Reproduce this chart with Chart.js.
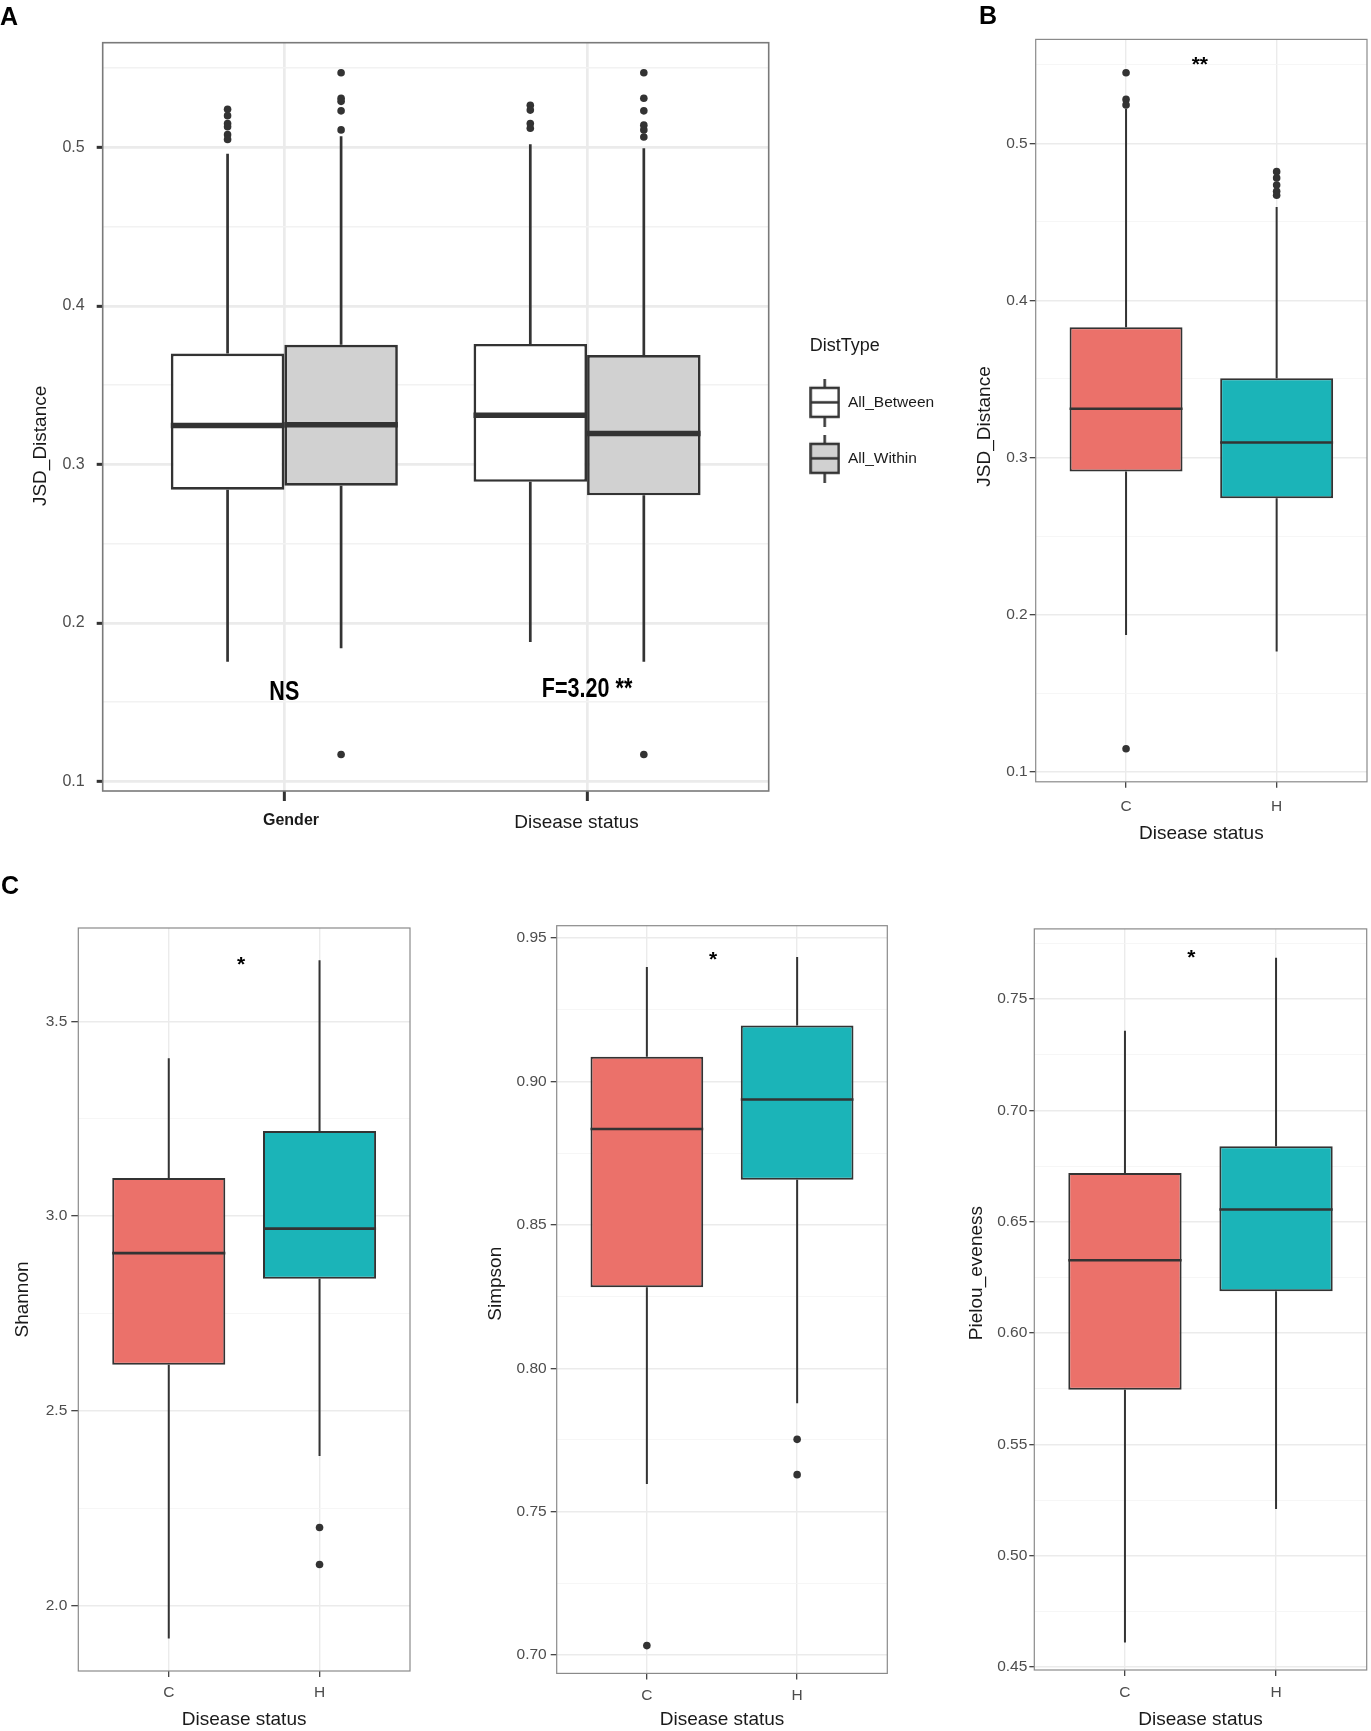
<!DOCTYPE html>
<html>
<head>
<meta charset="utf-8">
<title>JSD distance and alpha diversity boxplots</title>
<script src="https://cdn.jsdelivr.net/npm/chart.js@4.4.1/dist/chart.umd.min.js"></script>
<style>
  html, body { margin: 0; padding: 0; background: #fff; overflow: hidden; }
  #page { position: relative; width: 1371px; height: 1731px; }
  canvas { position: absolute; }
  .tag { position: absolute; font: bold 25px/25px 'Liberation Sans', Arial, sans-serif; color: #000; }
</style>
</head>
<body>
<div id="page">
  <canvas id="chartA" width="951" height="841" style="left:0;top:0"></canvas>
  <canvas id="chartB" width="416" height="852" style="left:955px;top:0"></canvas>
  <canvas id="chartShannon" width="460" height="871" style="left:0;top:860px"></canvas>
  <canvas id="chartSimpson" width="460" height="871" style="left:460px;top:860px"></canvas>
  <canvas id="chartPielou" width="451" height="871" style="left:920px;top:860px"></canvas>
  <div class="tag" style="left:0;top:4px">A</div>
  <div class="tag" style="left:979px;top:3px">B</div>
  <div class="tag" style="left:1px;top:873px">C</div>
</div>
<script>
const FONT = "'Liberation Sans', Arial, sans-serif";
const INK = "#333333";
Chart.defaults.font.family = FONT;

// A: JSD distance, between vs within, per grouping factor
// each box is [lower whisker, Q1, median, Q3, upper whisker]
const aGroups = ["Gender", "Disease status"];
const aTypes = ["All_Between", "All_Within"];
const aBetween = [[0.1755, 0.284, 0.3245, 0.370, 0.496], [0.188, 0.289, 0.331, 0.376, 0.502]];
const aWithin = [[0.184, 0.2865, 0.325, 0.3755, 0.507], [0.1755, 0.2805, 0.3195, 0.369, 0.4995]];
const aBetweenOut = [[0.524, 0.520, 0.515, 0.513, 0.508, 0.505], [0.5265, 0.5235, 0.515, 0.512]];
const aWithinOut = [[0.547, 0.531, 0.529, 0.523, 0.511, 0.117], [0.547, 0.531, 0.523, 0.514, 0.511, 0.5065, 0.117]];
const aTicks = [0.1, 0.2, 0.3, 0.4, 0.5];
const aTickLabels = ["0.1", "0.2", "0.3", "0.4", "0.5"];
const aNotes = ["NS", "F=3.20 **"];
const aNoteY = [0.156, 0.158];

// B: JSD distance by disease status
const status = ["C", "H"];
const bBox = [[0.187, 0.291, 0.331, 0.383, 0.522], [0.1765, 0.274, 0.3095, 0.3505, 0.4595]];
const bOut = [[0.545, 0.528, 0.5245, 0.1145], [0.482, 0.478, 0.4735, 0.4695, 0.467]];
const bTicks = [0.1, 0.2, 0.3, 0.4, 0.5];
const bTickLabels = ["0.1", "0.2", "0.3", "0.4", "0.5"];

// C: alpha diversity by disease status
const shannonBox = [[1.915, 2.618, 2.905, 3.098, 3.406], [2.384, 2.839, 2.968, 3.219, 3.6575]];
const shannonOut = [[], [2.200, 2.105]];
const shannonTicks = [2.0, 2.5, 3.0, 3.5];
const shannonTickLabels = ["2.0", "2.5", "3.0", "3.5"];

const simpsonBox = [[0.7596, 0.8282, 0.8834, 0.9086, 0.9399], [0.7878, 0.8657, 0.8937, 0.9195, 0.9434]];
const simpsonOut = [[0.7033], [0.7752, 0.7629]];
const simpsonTicks = [0.70, 0.75, 0.80, 0.85, 0.90, 0.95];
const simpsonTickLabels = ["0.70", "0.75", "0.80", "0.85", "0.90", "0.95"];

const pielouBox = [[0.4611, 0.5746, 0.6327, 0.6719, 0.7358], [0.5210, 0.6188, 0.6555, 0.6839, 0.7685]];
const pielouOut = [[], []];
const pielouTicks = [0.45, 0.50, 0.55, 0.60, 0.65, 0.70, 0.75];
const pielouTickLabels = ["0.45", "0.50", "0.55", "0.60", "0.65", "0.70", "0.75"];

// significance marks: [text, x position, y position]
const bMark = ["**", 1.49, 0.550];
const shannonMark = ["*", 1.48, 3.646];
const simpsonMark = ["*", 1.44, 0.9422];
const pielouMark = ["*", 1.44, 0.7684];

const RED = "#EB716A";
const TEAL = "#1BB4B8";
const GREY = "#D1D1D1";

// spaces nudge a centred label off its anchor, like the hand-placed original
const pad = (text, before, after) => " ".repeat(before) + text + " ".repeat(after);

// whiskers go under the boxes, medians on top
function drawBoxParts(chart, opts, part) {
  const ctx = chart.ctx;
  const y = chart.scales.y;
  chart.data.datasets.forEach((ds, di) => {
    if (!ds.stats) return;
    chart.getDatasetMeta(di).data.forEach((bar, i) => {
      const [lo, q1, med, q3, hi] = ds.stats[i];
      const {x, width} = bar.getProps(["x", "width"], true);
      ctx.save();
      ctx.strokeStyle = INK;
      ctx.beginPath();
      if (part === "whisker") {
        ctx.lineWidth = opts.whisker;
        ctx.moveTo(x, y.getPixelForValue(hi));
        ctx.lineTo(x, y.getPixelForValue(q3));
        ctx.moveTo(x, y.getPixelForValue(q1));
        ctx.lineTo(x, y.getPixelForValue(lo));
      } else {
        ctx.lineWidth = opts.median;
        const ym = y.getPixelForValue(med);
        ctx.moveTo(x - width / 2, ym);
        ctx.lineTo(x + width / 2, ym);
      }
      ctx.stroke();
      ctx.restore();
    });
  });
}

const boxPlugin = {
  id: "boxparts",
  beforeDatasetsDraw(chart, args, opts) { drawBoxParts(chart, opts, "whisker"); },
  afterDatasetsDraw(chart, args, opts) { drawBoxParts(chart, opts, "median"); },
  afterDraw(chart, args, opts) {
    const {ctx, chartArea: a} = chart;
    ctx.save();
    ctx.strokeStyle = opts.frame;
    ctx.lineWidth = opts.frameWidth;
    ctx.strokeRect(a.left, a.top, a.right - a.left, a.bottom - a.top);
    ctx.restore();
    opts.notes.forEach(n => {
      const px = chart.scales.x.getPixelForValue(n.x);
      const py = chart.scales.y.getPixelForValue(n.y);
      ctx.save();
      ctx.translate(px, py);
      ctx.scale(n.squeeze, 1);
      ctx.font = "bold " + n.size + "px " + FONT;
      ctx.fillStyle = "#000";
      ctx.textAlign = "center";
      ctx.textBaseline = "middle";
      ctx.fillText(n.text, 0, 0);
      ctx.restore();
    });
  }
};

function legendGlyph(fill) {
  const c = document.createElement("canvas");
  c.width = 31;
  c.height = 48;
  const g = c.getContext("2d");
  g.strokeStyle = INK;
  g.lineWidth = 2.5;
  g.beginPath();
  g.moveTo(15.5, 0);
  g.lineTo(15.5, 48);
  g.stroke();
  g.fillStyle = fill;
  g.fillRect(1.5, 9, 28, 29);
  g.strokeRect(1.5, 9, 28, 29);
  g.beginPath();
  g.moveTo(1.5, 23.5);
  g.lineTo(29.5, 23.5);
  g.stroke();
  return c;
}

function boxChart(id, o) {
  const L = o.layout;
  const n = o.series.length;
  const datasets = [];
  o.series.forEach(s => {
    datasets.push({
      type: "bar",
      label: s.label,
      data: s.stats.map((st, gi) => ({x: gi + 1, y: [st[1], st[3]]})),
      stats: s.stats,
      backgroundColor: s.fill,
      borderColor: INK,
      borderWidth: L.line,
      borderSkipped: false,
      categoryPercentage: 0.75,
      barPercentage: 1,
      order: 2
    });
  });
  o.series.forEach((s, si) => {
    const shift = (si - (n - 1) / 2) * 0.75 / n;
    datasets.push({
      type: "scatter",
      label: s.label + " outliers",
      data: s.out.flatMap((vals, gi) => vals.map(v => ({x: gi + 1 + shift, y: v}))),
      pointRadius: 3.8,
      pointBackgroundColor: INK,
      pointBorderWidth: 0,
      order: 1
    });
  });

  const minor = [];
  const step = o.ticks[1] - o.ticks[0];
  for (let v = o.ticks[0] - step / 2; v < o.range[1]; v += step) {
    if (v > o.range[0]) minor.push(v);
  }
  const gridVals = o.ticks.concat(minor).sort((p, q) => p - q);
  const majorIndex = v => o.ticks.findIndex(t => Math.abs(t - v) < 1e-9);
  const isMajor = c => c.tick && majorIndex(c.tick.value) >= 0;
  const xLabel = L.xLabel || (s => s);

  return new Chart(document.getElementById(id), {
    type: "bar",
    data: {datasets},
    plugins: [boxPlugin],
    options: {
      responsive: false,
      animation: false,
      events: [],
      layout: {padding: L.padding},
      scales: {
        x: {
          type: "linear",
          min: 0.4,
          max: 2.6,
          offset: false,
          afterBuildTicks: ax => { ax.ticks = o.cats.map((c, i) => ({value: i + 1})); },
          afterFit: ax => { ax.height = L.xHeight; },
          border: {display: false},
          grid: {
            offset: false,
            color: L.gridMajor,
            lineWidth: L.gridWidth,
            tickLength: L.xTick,
            tickColor: INK,
            tickWidth: L.tickWidth
          },
          ticks: {
            autoSkip: false,
            maxRotation: 0,
            padding: L.xPad,
            color: L.xColor,
            font: L.xFont,
            callback: v => xLabel(o.cats[Math.round(v) - 1], Math.round(v) - 1)
          },
          title: o.xTitle ? {
            display: true,
            text: o.xTitle,
            color: "#1a1a1a",
            font: {size: 19},
            padding: {top: 0, bottom: L.xTitlePad}
          } : {display: false}
        },
        y: {
          type: "linear",
          min: o.range[0],
          max: o.range[1],
          beginAtZero: false,
          afterBuildTicks: ax => { ax.ticks = gridVals.map(v => ({value: v})); },
          afterFit: ax => { ax.width = L.yWidth; },
          border: {display: false},
          grid: {
            color: c => isMajor(c) ? L.gridMajor : L.gridMinor,
            lineWidth: c => isMajor(c) ? L.gridWidth : L.gridWidth * 0.55,
            tickLength: L.yTick,
            tickColor: c => isMajor(c) ? INK : "rgba(0,0,0,0)",
            tickWidth: L.tickWidth
          },
          ticks: {
            autoSkip: false,
            padding: L.yPad,
            color: "#4d4d4d",
            font: {size: L.yFont},
            callback: v => {
              const k = majorIndex(v);
              return k >= 0 ? o.tickLabels[k] : "";
            }
          },
          title: {
            display: true,
            text: pad(o.yTitle, L.yTitleShift[0], L.yTitleShift[1]),
            color: "#1a1a1a",
            font: {size: 19},
            padding: {top: L.yTitlePad, bottom: 0}
          }
        }
      },
      plugins: {
        legend: o.legend || {display: false},
        tooltip: {enabled: false},
        boxparts: {
          whisker: L.line,
          median: L.median,
          frame: L.frame,
          frameWidth: L.frameWidth,
          notes: o.notes
        }
      }
    }
  });
}

const glyphs = [legendGlyph("#ffffff"), legendGlyph(GREY)];

boxChart("chartA", {
  cats: aGroups,
  series: [
    {label: aTypes[0], stats: aBetween, out: aBetweenOut, fill: "#ffffff"},
    {label: aTypes[1], stats: aWithin, out: aWithinOut, fill: GREY}
  ],
  range: [0.094, 0.566],
  ticks: aTicks,
  tickLabels: aTickLabels,
  yTitle: "JSD_Distance",
  notes: aNotes.map((t, i) => ({text: t, x: i + 1, y: aNoteY[i], size: 28, squeeze: 0.77})),
  legend: {
    display: true,
    position: "right",
    align: "start",
    maxWidth: 172,
    title: {
      display: true,
      text: pad("DistType", 0, 4),
      position: "center",
      color: "#1a1a1a",
      font: {size: 18},
      padding: {top: 294.3, bottom: -4}
    },
    labels: {
      usePointStyle: true,
      pointStyleWidth: 31,
      padding: 40.5,
      color: "#1a1a1a",
      font: {size: 15.5},
      generateLabels: () => aTypes.map((t, i) => ({
        text: t, pointStyle: glyphs[i], hidden: false, datasetIndex: i,
        fillStyle: "rgba(0,0,0,0)", strokeStyle: "rgba(0,0,0,0)", lineWidth: 0
      }))
    }
  },
  layout: {
    padding: {top: 42.7, right: 10.3, bottom: 0, left: 0},
    yWidth: 102.7, xHeight: 50,
    line: 2.7, median: 5.5, tickWidth: 3,
    gridMajor: "#EBEBEB", gridMinor: "#F2F2F2", gridWidth: 2.7,
    frame: "#7a7a7a", frameWidth: 1.6,
    xTick: 10, xPad: 10, xColor: "#1a1a1a",
    xFont: c => c.index === 0 ? {size: 16, weight: "bold"} : {size: 19},
    xLabel: (s, i) => i === 0 ? pad(s, 3, 0) : pad(s, 0, 4),
    yTick: 6, yPad: 12, yFont: 16, yTitlePad: 29.6, yTitleShift: [0, 11]
  }
});

const cLayout = {
  line: 2, median: 2.6, tickWidth: 1.2,
  gridMajor: "#EBEBEB", gridMinor: "#F3F3F3", gridWidth: 1.4,
  frame: "#8a8a8a", frameWidth: 1.2,
  xTick: 6, xColor: "#4d4d4d", xFont: {size: 15.5},
  yFont: 15.5, xTitlePad: 0, yTitleShift: [0, 0]
};

const markNote = m => [{text: m[0], x: m[1], y: m[2], size: 21, squeeze: 1}];

boxChart("chartB", {
  cats: status,
  series: [{label: "JSD", stats: bBox, out: bOut, fill: [RED, TEAL]}],
  range: [0.0935, 0.5662],
  ticks: bTicks,
  tickLabels: bTickLabels,
  yTitle: "JSD_Distance",
  xTitle: "Disease status",
  notes: markNote(bMark),
  layout: Object.assign({}, cLayout, {
    padding: {top: 39.4, right: 2, bottom: 0, left: 0},
    yWidth: 80.7, xHeight: 70.2, xPad: 10, xTitlePad: 6.6,
    yTick: 6, yPad: 2, yTitlePad: 18.6, yTitleShift: [0, 6]
  })
});

boxChart("chartShannon", {
  cats: status,
  series: [{label: "Shannon", stats: shannonBox, out: shannonOut, fill: [RED, TEAL]}],
  range: [1.8314, 3.7405],
  ticks: shannonTicks,
  tickLabels: shannonTickLabels,
  yTitle: "Shannon",
  xTitle: "Disease status",
  notes: markNote(shannonMark),
  layout: Object.assign({}, cLayout, {
    padding: {top: 68, right: 50, bottom: 0, left: 0},
    yWidth: 78.3, xHeight: 60, xPad: 6,
    yTick: 7, yPad: 4, yTitlePad: 11.1
  })
});

boxChart("chartSimpson", {
  cats: status,
  series: [{label: "Simpson", stats: simpsonBox, out: simpsonOut, fill: [RED, TEAL]}],
  range: [0.6936, 0.9543],
  ticks: simpsonTicks,
  tickLabels: simpsonTickLabels,
  yTitle: "Simpson",
  xTitle: "Disease status",
  notes: markNote(simpsonMark),
  layout: Object.assign({}, cLayout, {
    padding: {top: 65.7, right: 32.7, bottom: 0, left: 0},
    yWidth: 96.7, xHeight: 57.6, xPad: 7.3,
    yTick: 6, yPad: 4, yTitlePad: 24.6, yTitleShift: [6, 0]
  })
});

boxChart("chartPielou", {
  cats: status,
  series: [{label: "Pielou", stats: pielouBox, out: pielouOut, fill: [RED, TEAL]}],
  range: [0.4487, 0.7815],
  ticks: pielouTicks,
  tickLabels: pielouTickLabels,
  yTitle: "Pielou_eveness",
  xTitle: "Disease status",
  notes: markNote(pielouMark),
  layout: Object.assign({}, cLayout, {
    padding: {top: 68.9, right: 4.3, bottom: 0, left: 0},
    yWidth: 114.3, xHeight: 61, xPad: 7,
    yTick: 5, yPad: 2, yTitlePad: 45.1, yTitleShift: [10, 0]
  })
});
</script>
</body>
</html>
